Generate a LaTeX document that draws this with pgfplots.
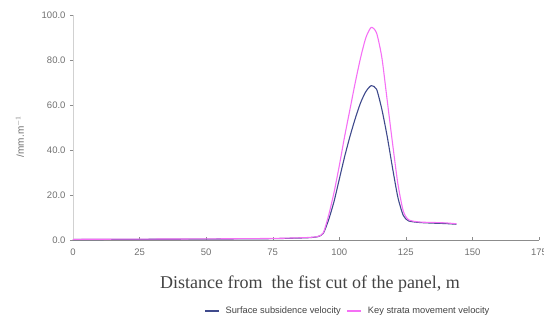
\documentclass[border=0pt]{standalone}
\usepackage{fontspec}
\setmainfont{Liberation Serif}
\setsansfont{Liberation Sans}
\usepackage{pgfplots}
\pgfplotsset{compat=1.18}
\definecolor{subs}{HTML}{3F4A8C}
\definecolor{keys}{HTML}{F570F5}
\definecolor{axgray}{HTML}{8C8C8C}
\definecolor{txtgray}{HTML}{707070}
\begin{document}
\begin{tikzpicture}
\begin{axis}[
  scale only axis, width=466pt, height=225pt,
  xmin=0, xmax=175, ymin=0, ymax=100,
  xtick={0,25,50,75,100,125,150,175},
  ytick={0,20,40,60,80,100},
  yticklabel style={xshift=-1pt, /pgf/number format/.cd, fixed, fixed zerofill, precision=1},
  /pgf/number format/assume math mode=true,
  tick label style={font=\sffamily\fontsize{9.5}{10}\selectfont, text=txtgray},
  xticklabel style={yshift=-5pt},
  axis x line*=bottom, axis y line*=left,
  axis line style={axgray, line width=0.5pt},
  x axis line style={-}, y axis line style={-, axgray!40},
  tick style={axgray, line width=0.4pt},
  major tick length=3pt,
  xtick pos=bottom, ytick pos=left,
  xtick align=inside, ytick align=outside,
  xlabel={Distance from\ \ the fist cut of the panel, m},
  xlabel style={font=\rmfamily\fontsize{18}{20}\selectfont, text=txtgray!60!black, at={(rel axis cs:0.5,0)}, anchor=center, yshift=-44pt, xshift=4pt},
  ylabel={/mm.m$^{-1}$},
  ylabel style={font=\sffamily\fontsize{10}{11}\selectfont, text=txtgray, at={(rel axis cs:-0.114,0.46)}, anchor=center},
  legend style={at={(rel axis cs:0.59,0)}, anchor=center, yshift=-71pt, draw=none, fill=none,
    font=\sffamily\fontsize{9.3}{10}\selectfont, text=txtgray!60!black, column sep=4pt},
  legend columns=2,
  legend image code/.code={\draw[#1] (0pt,0pt) -- (14pt,0pt);},
]
\addplot[subs, line width=1.1pt, smooth, tension=0.4] coordinates {
(0,0.2)(25,0.3)(50,0.4)(75,0.6)(88,1.0)(92,1.5)(94,3)(96,9)(98,17)(100,27)(102,37)(104,46)(106,54)(108,61)(110,66)(112,68.6)(114,67)(116,58)(118,46)(120,32)(122,19)(124,11)(126,8.5)(130,7.8)(135,7.5)(140,7.3)(144,7.0)
};
\addlegendentry{Surface subsidence velocity}
\addplot[keys, line width=1.1pt, smooth, tension=0.4] coordinates {
(0,0.3)(25,0.4)(50,0.5)(75,0.7)(88,1.1)(92,1.6)(94,3.2)(96,11)(98,21)(100,33)(102,46)(104,58)(106,70)(108,81)(110,90)(112,94.5)(114,92)(116,81)(118,62)(120,43)(122,25)(124,13)(126,9)(130,8)(135,7.8)(140,7.6)(144,7.2)
};
\addlegendentry{Key strata movement velocity}
\end{axis}
\pgfresetboundingbox
\useasboundingbox (-73pt,-82pt) rectangle (471pt,240pt);
\end{tikzpicture}
\end{document}
